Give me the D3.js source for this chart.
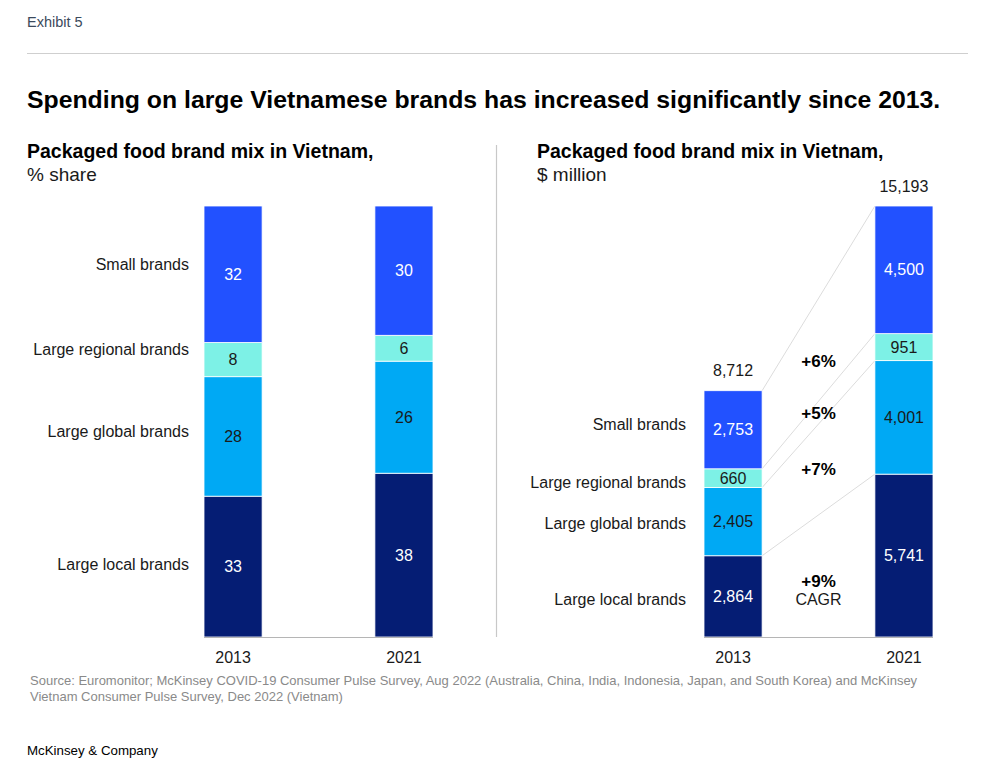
<!DOCTYPE html>
<html>
<head>
<meta charset="utf-8">
<script src="https://cdn.jsdelivr.net/npm/d3@7.9.0/dist/d3.min.js"></script>
<style>
  body { margin: 0; background: #fff; }
  svg { display: block; font-family: "Liberation Sans", Arial, sans-serif; }
</style>
</head>
<body>
<svg id="chart" width="1000" height="775"></svg>
<script>
const years = ['2013', '2021'];
const brands = ['Large local brands', 'Large global brands', 'Large regional brands', 'Small brands'];
const share2013 = [33, 28, 8, 32];
const share2021 = [38, 26, 6, 30];
const spend2013 = [2864, 2405, 660, 2753];
const spend2021 = [5741, 4001, 951, 4500];
const spendTotals = [8712, 15193];
const cagr = ['+9%', '+7%', '+5%', '+6%'];

const colors = ['#051D74', '#00A9F4', '#7DF1E6', '#2251FF'];
const textColors = ['#fff', '#1a1a1a', '#1a1a1a', '#fff'];

const svg = d3.select('#chart');
const fmt = d3.format(',');

// header
svg.append('text').attr('x', 27).attr('y', 27)
    .attr('font-size', 14.5).attr('fill', '#3b4a5c').text('Exhibit 5');
svg.append('line').attr('x1', 27).attr('x2', 968).attr('y1', 53.5).attr('y2', 53.5)
    .attr('stroke', '#cfcfcf').attr('stroke-width', 1.2);
svg.append('text').attr('x', 27).attr('y', 108)
    .attr('font-size', 24.8).attr('font-weight', 'bold').attr('fill', '#000')
    .text('Spending on large Vietnamese brands has increased significantly since 2013.');

const chartTop = 206;
const chartBottom = 637;

function toRows(a, b) {
    return years.map((yr, i) => {
        const src = i === 0 ? a : b;
        const row = { year: yr };
        brands.forEach((k, j) => row[k] = src[j]);
        return row;
    });
}

function drawPanel(opts) {
    const g = svg.append('g');

    g.append('text').attr('x', opts.titleX).attr('y', 158)
        .attr('font-size', 19.5).attr('font-weight', 'bold').attr('fill', '#000')
        .text('Packaged food brand mix in Vietnam,');
    g.append('text').attr('x', opts.titleX).attr('y', 181)
        .attr('font-size', 19).attr('fill', '#1a1a1a')
        .text(opts.unit);

    const x = d3.scaleBand().domain(years).range(opts.range)
        .paddingInner(0.66).paddingOuter(0);

    const stack = d3.stack().keys(brands);
    if (opts.expand) stack.offset(d3.stackOffsetExpand);
    const series = stack(opts.rows);

    const y = d3.scaleLinear()
        .domain([0, opts.expand ? 1 : d3.max(spendTotals)])
        .range([chartBottom, chartTop]);

    // connectors between bars
    if (opts.connect) {
        g.append('g').selectAll('line')
            .data(series)
            .join('line')
            .attr('x1', x('2013') + x.bandwidth())
            .attr('x2', x('2021'))
            .attr('y1', s => y(s[0][1]))
            .attr('y2', s => y(s[1][1]))
            .attr('stroke', '#dcdcdc')
            .attr('stroke-width', 1);

        const lineY = (v0, v1) => (y(v0) + y(v1)) / 2;
        const cx = (x('2013') + x.bandwidth() + x('2021')) / 2;
        const nudge = [5, 0, 0, 11];
        g.append('g').selectAll('text')
            .data(series)
            .join('text')
            .attr('x', cx)
            .attr('y', (s, i) => (lineY(s[0][0], s[1][0]) + lineY(s[0][1], s[1][1])) / 2 + nudge[i])
            .attr('dy', '0.35em')
            .attr('text-anchor', 'middle')
            .attr('font-size', 17).attr('font-weight', 'bold').attr('fill', '#000')
            .text((s, i) => cagr[i]);
        const s0 = series[0];
        g.append('text')
            .attr('x', cx)
            .attr('y', (lineY(s0[0][0], s0[1][0]) + lineY(s0[0][1], s0[1][1])) / 2 + nudge[0] + 18)
            .attr('dy', '0.35em')
            .attr('text-anchor', 'middle')
            .attr('font-size', 16).attr('fill', '#1a1a1a')
            .text('CAGR');
    }

    // stacked bars
    const layers = g.append('g').selectAll('g')
        .data(series)
        .join('g')
        .attr('fill', (s, i) => colors[i]);

    layers.selectAll('rect')
        .data(s => s)
        .join('rect')
        .attr('x', d => x(d.data.year))
        .attr('y', d => y(d[1]))
        .attr('width', x.bandwidth())
        .attr('height', d => y(d[0]) - y(d[1]))
        .attr('stroke', '#fff')
        .attr('stroke-width', 0.8);

    series.forEach((s, i) => {
        g.append('g').selectAll('text')
            .data(s)
            .join('text')
            .attr('x', d => x(d.data.year) + x.bandwidth() / 2)
            .attr('y', d => (y(d[0]) + y(d[1])) / 2)
            .attr('dy', '0.35em')
            .attr('text-anchor', 'middle')
            .attr('font-size', 16)
            .attr('fill', textColors[i])
            .text(d => fmt(d.data[s.key]));
    });

    // baseline
    g.append('line')
        .attr('x1', opts.range[0]).attr('x2', opts.range[1])
        .attr('y1', chartBottom + 0.5).attr('y2', chartBottom + 0.5)
        .attr('stroke', '#b5b5b5').attr('stroke-width', 1.2);

    // category labels next to first bar
    g.append('g').selectAll('text')
        .data(series)
        .join('text')
        .attr('x', x('2013') - (opts.expand ? 15 : 18))
        .attr('y', (s, i) => (y(s[0][0]) + y(s[0][1])) / 2 + opts.catNudge[i])
        .attr('dy', '0.35em')
        .attr('text-anchor', 'end')
        .attr('font-size', 16)
        .attr('fill', '#1a1a1a')
        .text(s => s.key);

    // year labels
    g.append('g').selectAll('text')
        .data(years)
        .join('text')
        .attr('x', d => x(d) + x.bandwidth() / 2)
        .attr('y', 663)
        .attr('text-anchor', 'middle')
        .attr('font-size', 16)
        .attr('fill', '#1a1a1a')
        .text(d => d);

    // totals on top
    if (opts.totals) {
        g.append('g').selectAll('text')
            .data(years)
            .join('text')
            .attr('x', d => x(d) + x.bandwidth() / 2)
            .attr('y', (d, i) => y(spendTotals[i]) - 14)
            .attr('text-anchor', 'middle')
            .attr('font-size', 16)
            .attr('fill', '#1a1a1a')
            .text((d, i) => fmt(spendTotals[i]));
    }
}

drawPanel({
    titleX: 27, unit: '% share', range: [204, 433],
    rows: toRows(share2013, share2021), expand: true,
    catNudge: [-2, -5, -10, -10]
});
drawPanel({
    titleX: 537, unit: '$ million', range: [704, 933],
    rows: toRows(spend2013, spend2021), expand: false, connect: true, totals: true,
    catNudge: [3, 2, 4, -5]
});

// divider
svg.append('line').attr('x1', 496.5).attr('x2', 496.5).attr('y1', 145).attr('y2', 637)
    .attr('stroke', '#c8c8c8').attr('stroke-width', 1.2);

// footer
const src = svg.append('text').attr('font-size', 13).attr('fill', '#8a8a8a');
src.append('tspan').attr('x', 30).attr('y', 685)
    .text('Source: Euromonitor; McKinsey COVID-19 Consumer Pulse Survey, Aug 2022 (Australia, China, India, Indonesia, Japan, and South Korea) and McKinsey');
src.append('tspan').attr('x', 30).attr('y', 701)
    .text('Vietnam Consumer Pulse Survey, Dec 2022 (Vietnam)');

svg.append('text').attr('x', 27).attr('y', 755)
    .attr('font-size', 13.3).attr('fill', '#000').text('McKinsey & Company');
</script>
</body>
</html>
